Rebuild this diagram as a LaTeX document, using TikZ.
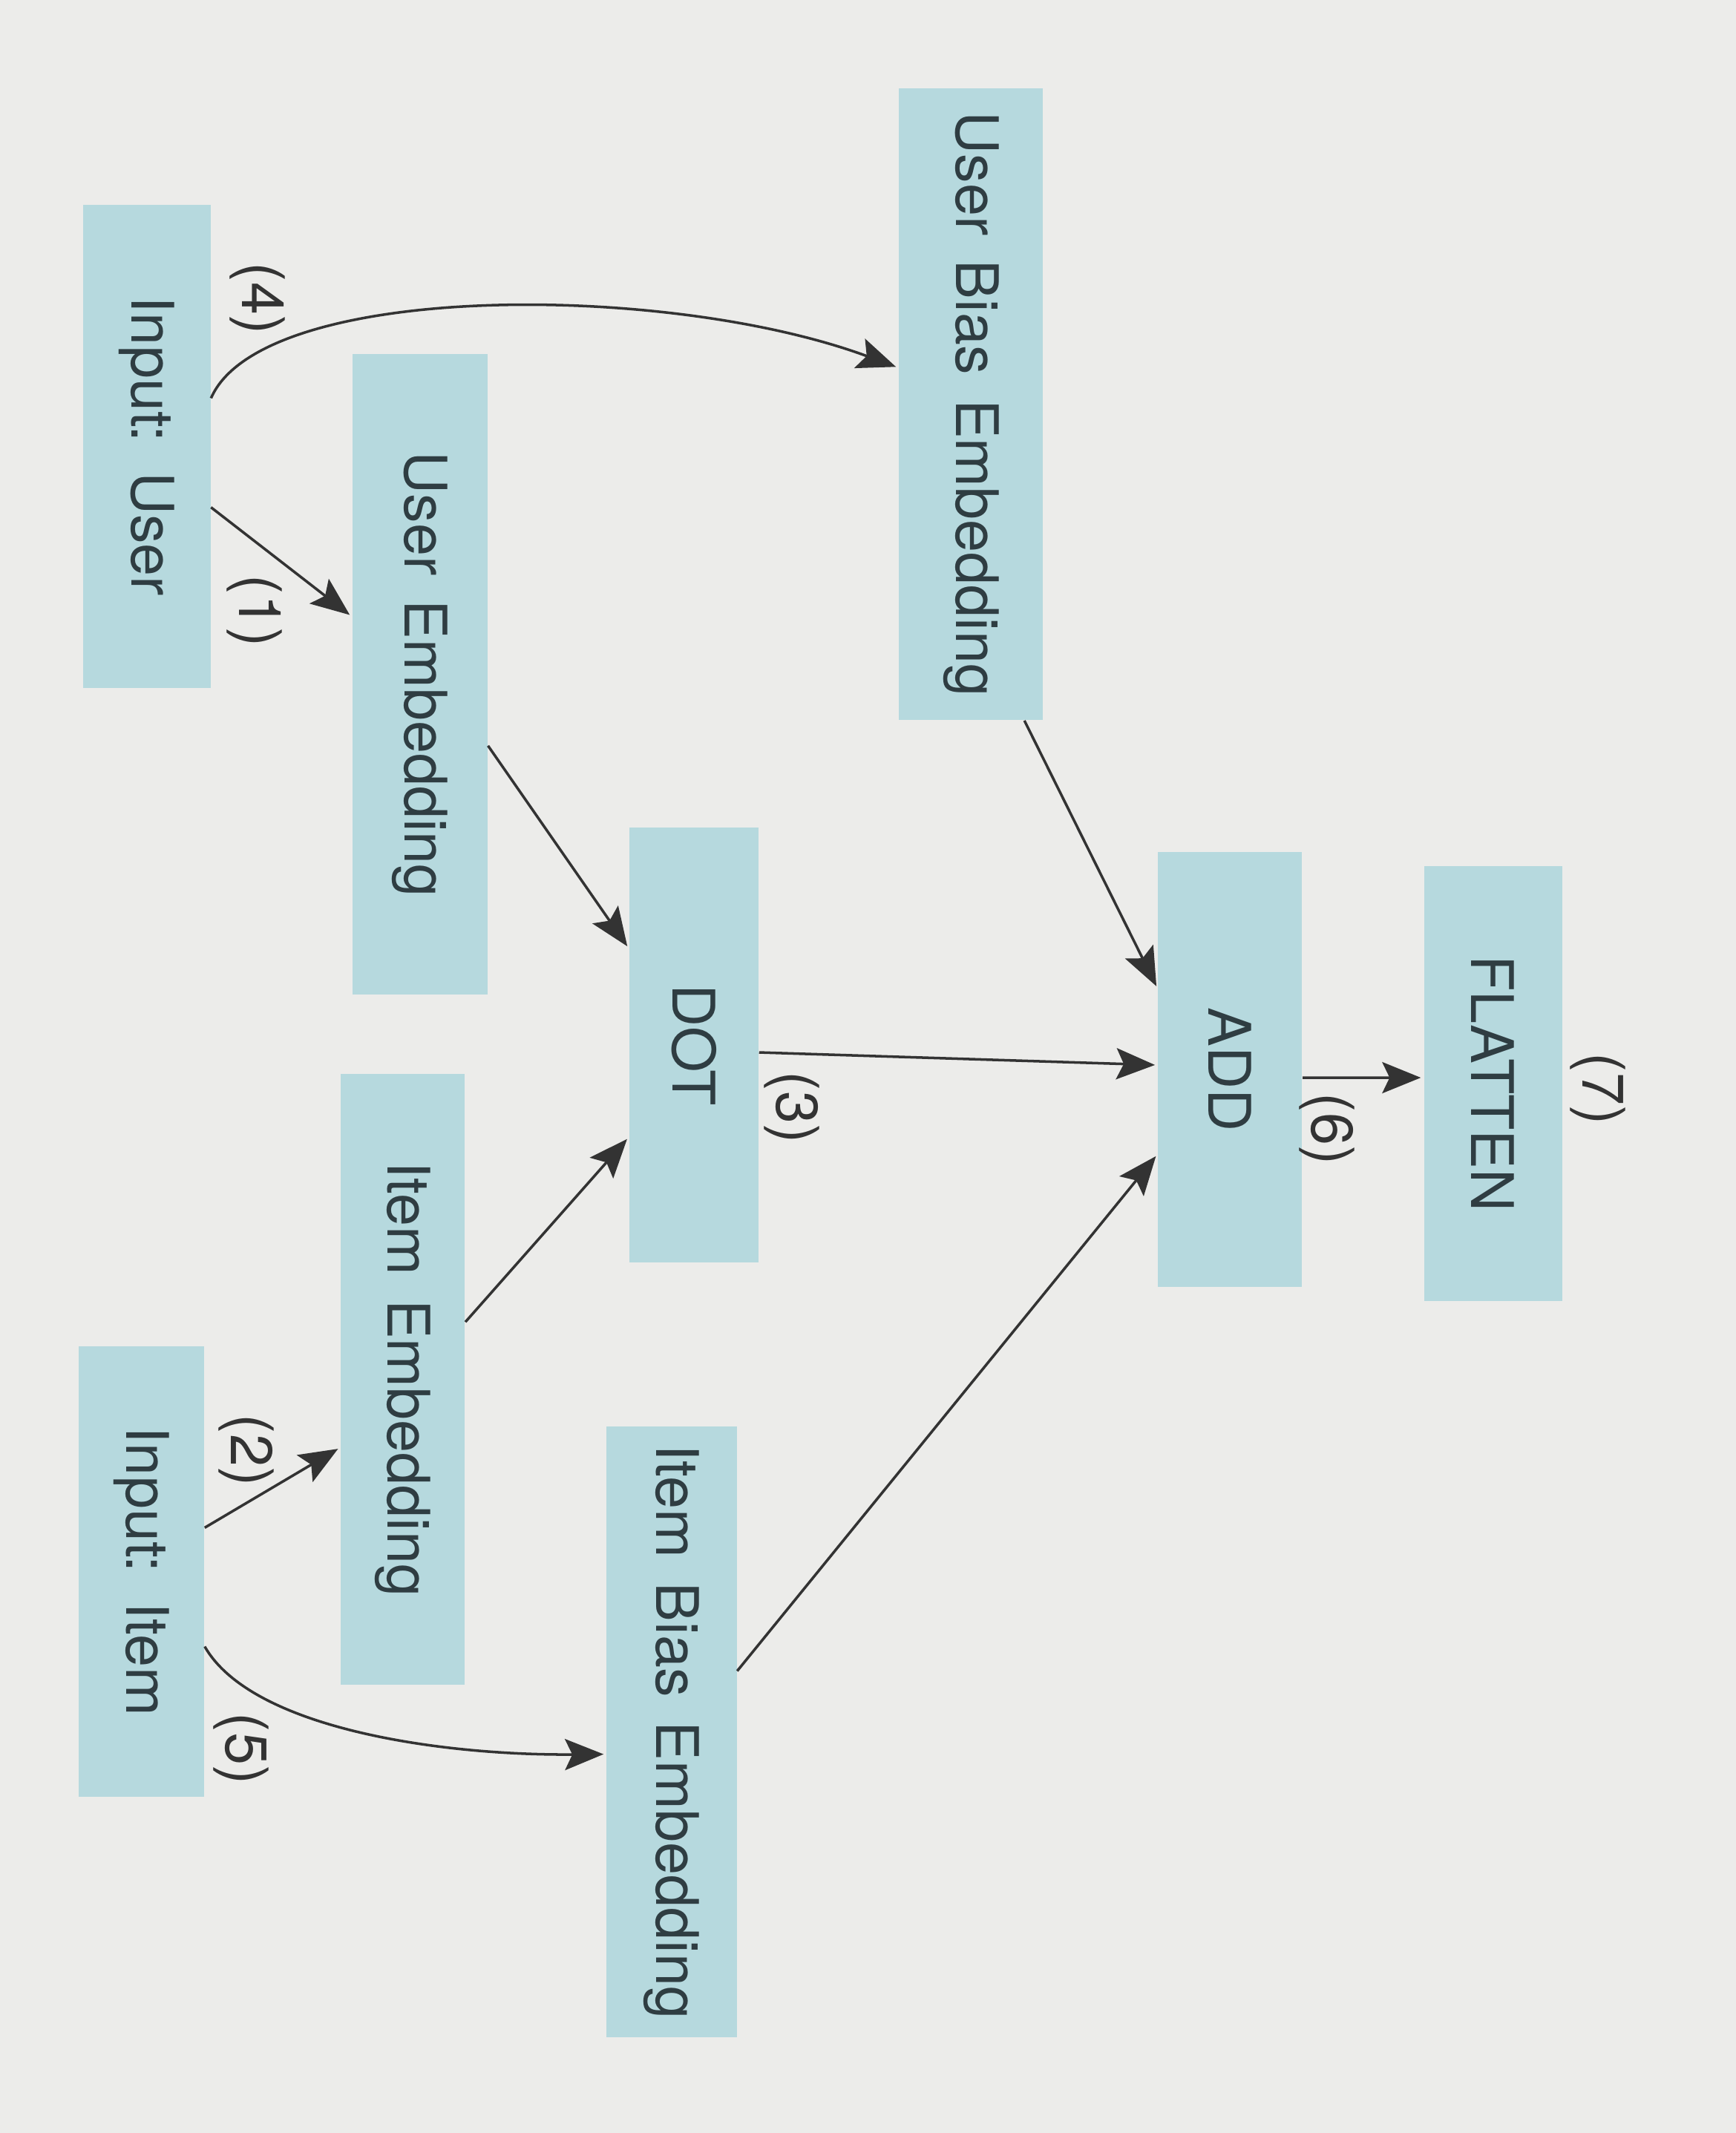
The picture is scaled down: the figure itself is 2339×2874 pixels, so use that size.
\documentclass[tikz,border=0pt]{standalone}
\usepackage{fontspec}
\setmainfont{TeX Gyre Heros}
\usepackage{xcolor}
\usepackage{graphicx}
\usepackage{tikz}
\usetikzlibrary{positioning}
\usetikzlibrary{arrows.meta}

\definecolor{pagebg}{HTML}{ECECEA}
\definecolor{boxfill}{HTML}{B6D9DE}
\definecolor{boxtext}{HTML}{2F3D42}
\definecolor{linegray}{HTML}{333333}

\newcommand{\vtext}[1]{\rotatebox{-90}{\spaceskip=0.42em\relax #1}}

\tikzset{
  layer/.style={fill=boxfill,text=boxtext,inner sep=0pt},
  num/.style={text=linegray,inner sep=0pt},
  link/.style={->,draw=linegray,line width=1pt,shorten >=1pt},
}

\begin{document}
\begin{tikzpicture}[x=0.01cm,y=-0.01cm,on grid,>={Stealth[length=5.2mm,width=4.2mm,inset=1mm]},font=\fontsize{22.5}{26}\selectfont]
   \fill[pagebg] (0,0) rectangle (2339,2874);
   \node[layer,minimum width=1.74cm,minimum height=5.86cm] (dot) at (935,1408) {\vtext{DOT}};
   \node[layer,minimum width=1.94cm,minimum height=5.86cm] (add) [below right=0.33cm and 7.22cm of dot] {\vtext{ADD}};
   \node[layer,minimum width=1.86cm,minimum height=5.85cm] (flatten) [below right=0.19cm and 3.54cm of add] {\vtext{FLATTEN}};
   \node[layer,minimum width=1.82cm,minimum height=8.62cm] (uemb) [above left=4.99cm and 3.69cm of dot] {\vtext{User Embedding}};
   \node[layer,minimum width=1.67cm,minimum height=8.23cm] (iemb) [below left=4.5cm and 3.92cm of dot] {\vtext{Item Embedding}};
   \node[layer,minimum width=1.94cm,minimum height=8.51cm] (ubias) [above right=8.63cm and 3.73cm of dot] {\vtext{User Bias Embedding}};
   \node[layer,minimum width=1.75cm,minimum height=8.22cm] (ibias) [below left=9.25cm and 0.3cm of dot] {\vtext{Item Bias Embedding}};
   \node[layer,minimum width=1.72cm,minimum height=6.51cm] (inuser) [above left=3.07cm and 3.68cm of uemb] {\vtext{Input: User}};
   \node[layer,minimum width=1.69cm,minimum height=6.06cm] (initem) [below left=2.59cm and 3.52cm of iemb] {\vtext{Input: Item}};

   % step numbers
   \node[num] (n1) at (343,823) {\vtext{(1)}};
   \node[num] (n2) at (332,1954) {\vtext{(2)}};
   \node[num] (n3) at (1067,1492) {\vtext{(3)}};
   \node[num] (n4) at (347,402) {\vtext{(4)}};
   \node[num] (n5) at (325,2356) {\vtext{(5)}};
   \node[num] (n6) at (1788,1521) {\vtext{(6)}};
   \node[num] (n7) at (2153,1467) {\vtext{(7)}};

   \draw[link] ([yshift=-0.82cm]inuser.east) -- ([yshift=0.78cm]uemb.west);
   \draw[link] ([yshift=0.59cm]initem.east) -- ([yshift=-0.92cm]iemb.west);
   \draw[link] ([yshift=-0.96cm]uemb.east) -- ([yshift=1.3cm]dot.west);
   \draw[link] ([yshift=0.77cm]iemb.east) -- ([yshift=-1.24cm]dot.west);
   \draw[link] ([yshift=-0.1cm]dot.east) -- ([yshift=0.06cm]add.west);
   \draw[link] ([xshift=0.72cm]ubias.south) -- ([yshift=1.09cm]add.west);
   \draw[link] ([yshift=0.82cm]ibias.east) -- ([yshift=-1.14cm]add.west);
   \draw[link] ([yshift=-0.11cm]add.east) -- ([yshift=0.08cm]flatten.west);
   \draw[link] ([yshift=0.65cm]inuser.east) .. controls +(68,-157) and +(-314,-116) .. ([yshift=0.49cm]ubias.west);
   \draw[link] ([yshift=-1.01cm]initem.east) .. controls +(64,112) and +(-218,2) .. ([yshift=-0.3cm]ibias.west);
\end{tikzpicture}
\end{document}
